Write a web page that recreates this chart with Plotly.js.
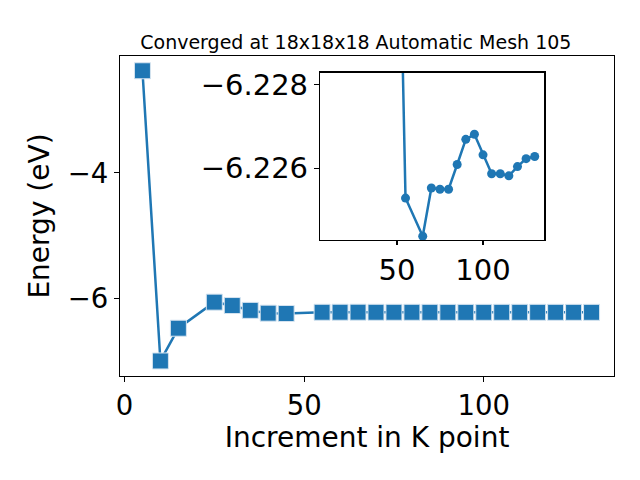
<!DOCTYPE html>
<html>
<head>
<meta charset="utf-8">
<script src="https://cdn.plot.ly/plotly-3.0.1.min.js"></script>
<style>html,body{margin:0;padding:0;background:#fff;}</style>
</head>
<body>
<div id="chart" style="width:640px;height:480px;"></div>
<script>
// Main series: K-point increment vs total energy
const kPoints = [5, 10, 15, 25, 30, 35, 40, 45, 55, 60, 65, 70, 75, 80, 85, 90, 95, 100, 105, 110, 115, 120, 125, 130];
const energy = [-2.37, -7.003, -6.48, -6.064, -6.118, -6.195, -6.24, -6.245, -6.22529, -6.22484, -6.22438, -6.22553, -6.2255, -6.2255, -6.22609, -6.22669, -6.22681, -6.22632, -6.22587, -6.22587, -6.22582, -6.22604, -6.22623, -6.22628];

// Inset series (zoom on converged region)
const insetK = [45, 55, 65, 70, 75, 80, 85, 90, 95, 100, 105, 110, 115, 120, 125, 130];
const insetE = [-6.245, -6.22529, -6.22438, -6.22553, -6.2255, -6.2255, -6.22609, -6.22669, -6.22681, -6.22632, -6.22587, -6.22587, -6.22582, -6.22604, -6.22623, -6.22628];

const titleText = "Converged at 18x18x18 Automatic Mesh 105";
const xLabel = "Increment in K point";
const yLabel = "Energy (eV)";

const blue = "#1f77b4";
const font = "DejaVu Sans, sans-serif";

const traces = [
  {
    x: kPoints, y: energy, type: "scatter", mode: "lines+markers",
    line: {color: blue, width: 2.5},
    marker: {symbol: "square", size: 16, color: blue, line: {width: 1, color: "#d6e4f0"}},
    xaxis: "x", yaxis: "y", hoverinfo: "skip"
  },
  {
    x: insetK, y: insetE, type: "scatter", mode: "lines+markers",
    line: {color: blue, width: 2.5},
    marker: {symbol: "circle", size: 9, color: blue},
    xaxis: "x2", yaxis: "y2", hoverinfo: "skip"
  }
];

const axisCommon = {
  showgrid: false, zeroline: false, showline: true, linecolor: "#000", linewidth: 1.2,
  mirror: true, ticks: "outside", ticklen: 5, tickwidth: 1.2, tickcolor: "#000",
  tickfont: {family: font, size: 27.5, color: "#000"}
};

const layout = {
  width: 640, height: 480,
  margin: {l: 120, r: 26, t: 56, b: 104},
  paper_bgcolor: "#fff", plot_bgcolor: "#fff",
  showlegend: false,
  font: {family: font, color: "#000"},
  title: {text: titleText, font: {family: font, size: 19, color: "#000"}, x: 0.556, xanchor: "center", y: 0.912, yanchor: "middle"},
  xaxis: Object.assign({}, axisCommon, {
    domain: [0, 1], range: [-1.25, 136.25], tickmode: "linear", tick0: 0, dtick: 50,
    title: {text: xLabel, font: {family: font, size: 28, color: "#000"}, standoff: 4}
  }),
  yaxis: Object.assign({}, axisCommon, {
    domain: [0, 1], range: [-7.243, -2.134], tickmode: "linear", tick0: 0, dtick: 2,
    title: {text: yLabel, font: {family: font, size: 28, color: "#000"}, standoff: 10}
  }),
  xaxis2: Object.assign({}, axisCommon, {
    domain: [0.405, 0.859], anchor: "y2", range: [5.4, 135.6], tickmode: "linear", tick0: 0, dtick: 50,
    ticklen: 4, tickfont: {family: font, size: 29, color: "#000"}
  }),
  yaxis2: Object.assign({}, axisCommon, {
    domain: [0.425, 0.948], anchor: "x2", range: [-6.22429, -6.22828], tickmode: "linear", tick0: -6.228, dtick: 0.002,
    tickformat: ".3f", tickfont: {family: font, size: 29, color: "#000"}
  })
};

Plotly.newPlot("chart", traces, layout, {staticPlot: true, displayModeBar: false});
</script>
</body>
</html>
